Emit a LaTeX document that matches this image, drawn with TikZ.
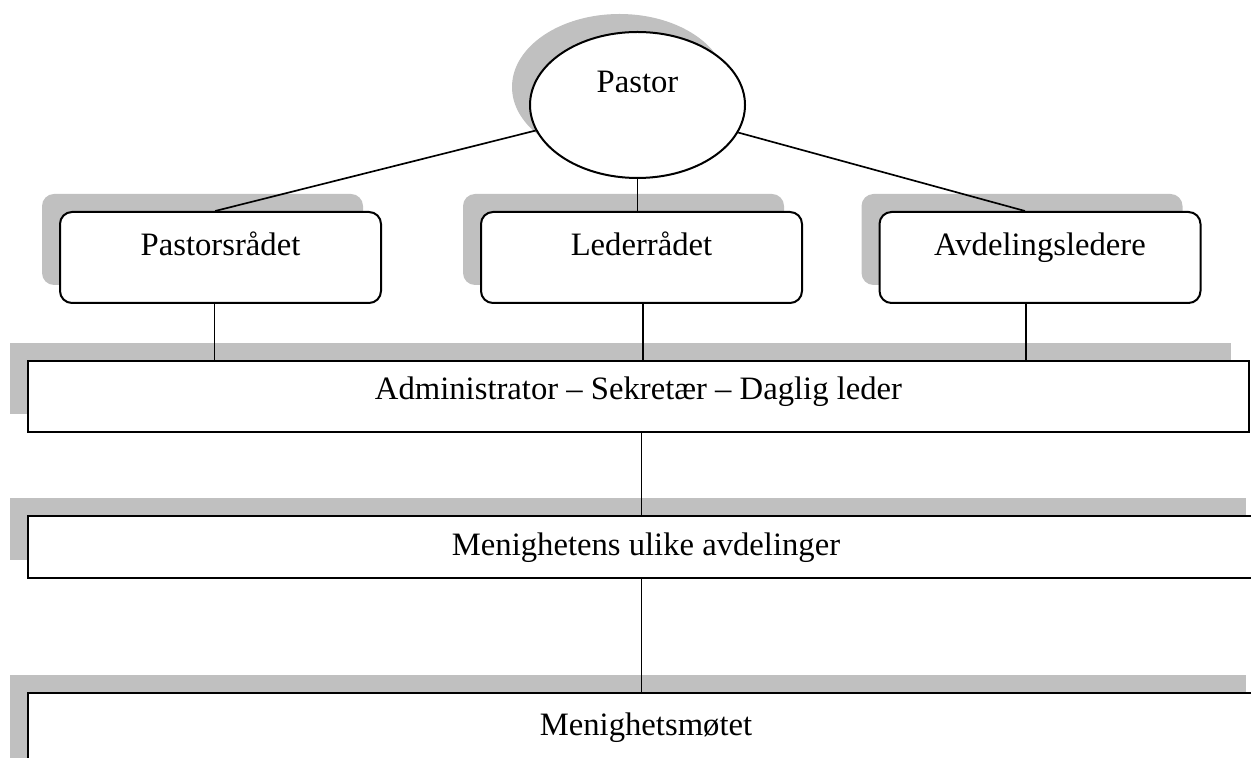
\documentclass[tikz,border=0pt]{standalone}
\usepackage{fontspec}
\setmainfont{Liberation Serif}
\usetikzlibrary{shapes.geometric,shadows}
\definecolor{shadowgray}{HTML}{C0C0C0}
\begin{document}
\begin{tikzpicture}[x=0.3pt,y=-0.3pt,
  font=\fontsize{9.8pt}{11pt}\selectfont,
  shad/.style={drop shadow={shadow xshift=-5.4pt,shadow yshift=5.4pt,fill=shadowgray,opacity=1}},
  ellbox/.style={ellipse,draw,line width=0.6pt,fill=white,shad,inner sep=0pt,
    minimum width=64.5pt,minimum height=43.8pt,text height=7.2pt,text depth=14.4pt},
  rbox/.style={rectangle,rounded corners=3.6pt,draw,line width=0.6pt,fill=white,shad,
    inner sep=0pt,minimum width=96.3pt,minimum height=27.3pt,text height=13.2pt,text depth=14.1pt},
  sbox/.style={rectangle,draw,line width=0.6pt,fill=white,shad,inner sep=0pt},
  conn/.style={line width=0.5pt}]
\useasboundingbox (0,0) rectangle (1251,758);
\clip (0,0) rectangle (1251,758);
\node[ellbox] (pastor) at (637.5,105) {Pastor};
\node[rbox] (pr) at (220.5,257.5) {Pastorsrådet};
\node[rbox] (ld) at (641.5,257.5) {Lederrådet};
\node[rbox] (av) at (1040,257.5) {Avdelingsledere};
\node[sbox,minimum width=366.3pt,minimum height=21.3pt,text height=11.7pt,text depth=9.6pt] (adm) at (638.5,396.5) {Administrator – Sekretær – Daglig leder};
\node[sbox,minimum width=370.8pt,minimum height=18.6pt,text height=11.7pt,text depth=6.9pt] (men) at (646,547) {Menighetens ulike avdelinger};
\node[sbox,minimum width=370.8pt,minimum height=30pt,text height=12.6pt,text depth=17.4pt] (mot) at (646,743) {Menighetsmøtet};
\draw[conn] (pastor) -- ([xshift=-1.6pt]pr.north);
\draw[conn] (pastor) -- ([xshift=-4.5pt]av.north);
\draw[conn] (pastor.south) -- (pastor.south |- ld.north);
\draw[conn] ([xshift=-1.8pt]pr.south) -- ([xshift=-1.8pt]pr.south |- adm.north);
\draw[conn] ([xshift=0.5pt]ld.south) -- ([xshift=0.5pt]ld.south |- adm.north);
\draw[conn] ([xshift=-4.2pt]av.south) -- ([xshift=-4.2pt]av.south |- adm.north);
\draw[conn] (ld.south |- adm.south) -- (ld.south |- men.north);
\draw[conn] (ld.south |- men.south) -- (ld.south |- mot.north);
\end{tikzpicture}
\end{document}
